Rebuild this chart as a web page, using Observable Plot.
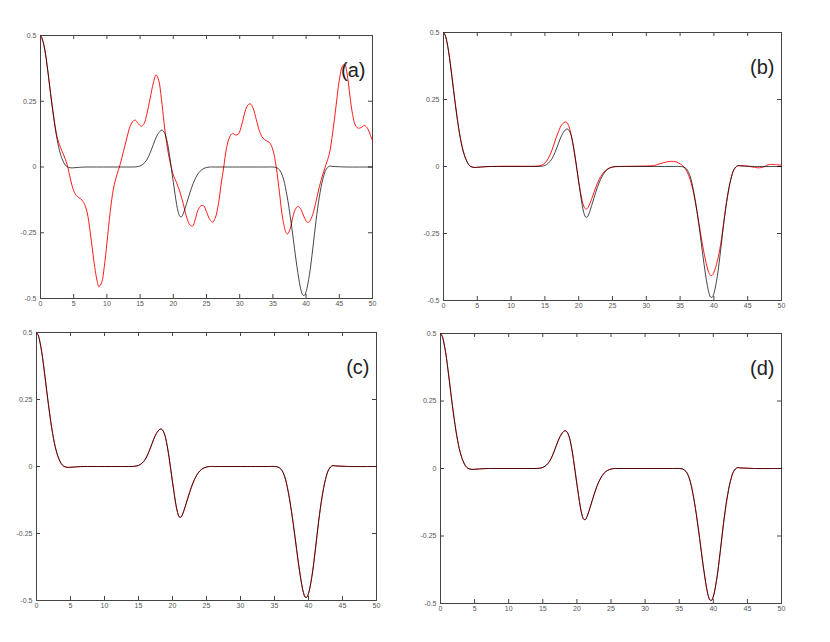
<!DOCTYPE html>
<html><head><meta charset="utf-8">
<script src="https://cdn.jsdelivr.net/npm/d3@7"></script>
<script src="https://cdn.jsdelivr.net/npm/@observablehq/plot@0.6"></script>
<style>
body{margin:0;background:#fff;}
#root{position:relative;width:830px;height:642px;overflow:hidden;background:#fff;}
#root svg{position:absolute;}
</style></head><body><div id="root"></div>
<script>
// Tick values and labels
const xTicks = [0,5,10,15,20,25,30,35,40,45,50];
const xTickLabels = ["0","5","10","15","20","25","30","35","40","45","50"];
const yTicks = [-0.5,-0.25,0,0.25,0.5];
const yTickLabels = ["-0.5","-0.25","0","0.25","0.5"];
const panelLabels = ["(a)","(b)","(c)","(d)"];

// Exact function (black)
const exactX = [0,0.25,0.5,0.75,1,1.25,1.5,1.75,2,2.25,2.5,2.75,3,3.25,3.5,3.75,4,4.5,5,5.5,6,7,8,10,12,13,14,14.5,15,15.5,16,16.5,17,17.5,18,18.25,18.5,18.75,19,19.25,19.5,19.75,20,20.25,20.5,20.75,21,21.25,21.5,22,22.5,23,23.5,24,24.5,25,25.5,26,30,34,35,35.5,36,36.5,37,37.5,38,38.5,39,39.25,39.5,39.75,40,40.5,41,41.5,42,42.5,43,43.5,44,45,46,50];
const exactY = [0.5,0.49,0.465,0.43,0.385,0.335,0.283,0.232,0.185,0.142,0.105,0.074,0.05,0.031,0.017,0.007,0.001,-0.003,-0.003,-0.002,-0.001,0,0,0,0,0,0,0.001,0.004,0.012,0.027,0.053,0.086,0.117,0.136,0.14,0.137,0.126,0.105,0.073,0.033,-0.012,-0.058,-0.101,-0.142,-0.172,-0.188,-0.189,-0.177,-0.139,-0.098,-0.062,-0.035,-0.017,-0.007,-0.002,0,0,0,0,0,-0.002,-0.011,-0.038,-0.092,-0.168,-0.26,-0.357,-0.44,-0.47,-0.487,-0.488,-0.474,-0.41,-0.312,-0.203,-0.113,-0.048,-0.01,0.003,0.002,0.001,0,0];

// Approximation (a)
const redAX = [0,0.5,1,1.5,2,2.5,3,3.5,4,4.5,5,5.5,6,6.5,7,7.5,8,8.5,8.8,9.2,9.6,10,10.5,11,11.5,12,12.5,13,13.5,14,14.3,14.7,15.2,15.6,16,16.5,17,17.4,17.8,18.2,18.6,19,19.5,20,20.5,21,21.5,22,22.5,22.9,23.3,23.7,24.2,24.6,25,25.5,25.9,26.3,26.8,27.2,27.6,28,28.5,28.9,29.4,29.8,30.3,30.8,31.2,31.6,32,32.5,33,33.5,34,34.5,35,35.5,36,36.5,37,37.2,37.6,38,38.4,38.8,39.2,39.7,40.2,40.5,41,41.5,42,42.5,43,43.5,44,44.5,45,45.5,45.8,46.2,46.6,47,47.4,47.8,48.3,48.8,49.3,49.7,50];
const redAY = [0.5,0.465,0.385,0.283,0.19,0.115,0.075,0.045,0.01,-0.045,-0.09,-0.112,-0.12,-0.135,-0.17,-0.25,-0.35,-0.43,-0.455,-0.44,-0.38,-0.29,-0.17,-0.08,-0.03,0.01,0.06,0.11,0.155,0.176,0.178,0.166,0.155,0.165,0.2,0.26,0.32,0.35,0.33,0.26,0.17,0.09,0.02,-0.03,-0.06,-0.095,-0.14,-0.19,-0.22,-0.225,-0.2,-0.165,-0.147,-0.148,-0.17,-0.2,-0.21,-0.195,-0.14,-0.065,0,0.07,0.115,0.127,0.122,0.125,0.16,0.21,0.235,0.24,0.225,0.18,0.135,0.11,0.1,0.093,0.065,0,-0.1,-0.2,-0.25,-0.255,-0.235,-0.19,-0.16,-0.15,-0.16,-0.19,-0.21,-0.208,-0.18,-0.13,-0.075,-0.03,0.01,0.05,0.13,0.23,0.33,0.385,0.39,0.35,0.27,0.2,0.16,0.148,0.15,0.158,0.145,0.12,0.1];

// Approximation (b)
const redBX = [0,0.25,0.5,0.75,1,1.25,1.5,1.75,2,2.25,2.5,2.75,3,3.25,3.5,3.75,4,4.5,5,5.5,6,7,9,11,13,14,14.5,15,15.5,16,16.5,17,17.5,18,18.25,18.5,18.75,19,19.25,19.5,19.75,20,20.25,20.5,20.75,21,21.25,21.5,22,22.5,23,23.5,24,24.5,25,26,28,30,31,31.5,32,32.5,33,33.5,34,34.5,35,35.5,36,36.5,37,37.5,38,38.5,39,39.25,39.5,39.75,40,40.5,41,41.5,42,42.5,43,43.5,44,45,46,46.5,47,47.5,48,48.5,49,50];
const redBY = [0.5,0.49,0.465,0.43,0.385,0.335,0.283,0.232,0.185,0.142,0.105,0.074,0.05,0.031,0.017,0.006,0,-0.004,-0.003,-0.002,-0.001,0,0.001,0.001,0.001,0.002,0.005,0.013,0.03,0.058,0.095,0.13,0.156,0.166,0.164,0.153,0.132,0.103,0.067,0.028,-0.014,-0.055,-0.094,-0.126,-0.148,-0.158,-0.157,-0.147,-0.115,-0.08,-0.05,-0.028,-0.014,-0.006,-0.002,0,0.001,0.002,0.003,0.006,0.01,0.014,0.017,0.019,0.019,0.016,0.01,0,-0.018,-0.05,-0.1,-0.168,-0.245,-0.318,-0.375,-0.396,-0.407,-0.406,-0.395,-0.354,-0.29,-0.2,-0.113,-0.048,-0.01,0.002,0.003,0.001,-0.003,-0.005,-0.004,0,0.006,0.008,0.007,0.005];

// Approximations (c) and (d) coincide with the exact curve
const redCX = exactX;
const redCY = exactY;
const redDX = exactX;
const redDY = exactY;

const panels = [
  {label: panelLabels[0], rx: redAX, ry: redAY, frame: [40, 35, 332, 263]},
  {label: panelLabels[1], rx: redBX, ry: redBY, frame: [443, 32, 338, 268]},
  {label: panelLabels[2], rx: redCX, ry: redCY, frame: [36, 332, 340, 268]},
  {label: panelLabels[3], rx: redDX, ry: redDY, frame: [440, 333, 341, 270]}
];

const root = document.getElementById("root");
const mL = 34, mR = 8, mT = 8, mB = 20;
const axisColor = "#444";
const font = "'Liberation Sans', Arial, Helvetica, sans-serif";

for (const p of panels) {
  const [fx, fy, fw, fh] = p.frame;
  const exact = exactX.map((x, i) => ({x, y: exactY[i]}));
  const red = p.rx.map((x, i) => ({x, y: p.ry[i]}));
  const chart = Plot.plot({
    width: fw + mL + mR,
    height: fh + mT + mB,
    marginLeft: mL, marginRight: mR, marginTop: mT, marginBottom: mB,
    style: {fontFamily: font, background: "transparent", overflow: "visible"},
    x: {domain: [0, 50], label: null},
    y: {domain: [-0.5, 0.5], label: null},
    marks: [
      Plot.ruleX(xTicks, {insetBottom: fh - 4, stroke: axisColor}),
      Plot.ruleX(xTicks, {insetTop: fh - 4, stroke: axisColor}),
      Plot.ruleY(yTicks, {insetRight: fw - 4, stroke: axisColor}),
      Plot.ruleY(yTicks, {insetLeft: fw - 4, stroke: axisColor}),
      Plot.frame({stroke: axisColor, strokeWidth: 1}),
      Plot.axisX(xTicks, {tickSize: 0, tickPadding: 3, fontSize: 7, fill: "#555", label: null,
        tickFormat: d => xTickLabels[xTicks.indexOf(d)]}),
      Plot.axisY(yTicks, {tickSize: 0, tickPadding: 4, fontSize: 7, fill: "#555", label: null,
        tickFormat: d => yTickLabels[yTicks.indexOf(d)]}),
      Plot.line(red, {x: "x", y: "y", stroke: "#ff1a1a", strokeWidth: 1, curve: "catmull-rom"}),
      Plot.line(exact, {x: "x", y: "y", stroke: "#000", strokeWidth: 1, strokeOpacity: 0.72, curve: "catmull-rom"}),
      Plot.text([p.label], {frameAnchor: "top-right", textAnchor: "end", dx: -7, dy: 27,
        fontSize: 20, fill: "#222", fontWeight: 300})
    ]
  });
  chart.style.left = (fx - mL) + "px";
  chart.style.top = (fy - mT) + "px";
  root.append(chart);
}
</script>
</body></html>
